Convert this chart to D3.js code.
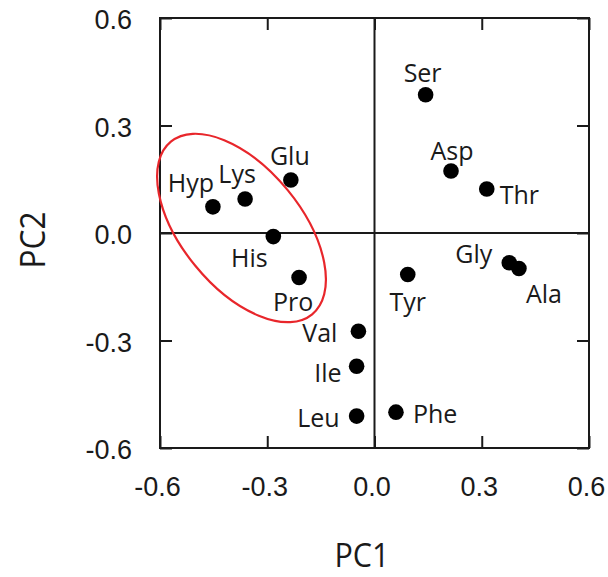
<!DOCTYPE html>
<html>
<head>
<meta charset="utf-8">
<script src="https://cdn.jsdelivr.net/npm/d3@7"></script>
<style>
  html, body { margin: 0; padding: 0; background: #fff; }
  svg { display: block; font-family: "Open Sans", "Noto Sans", sans-serif; }
</style>
</head>
<body>
<svg id="chart" width="608" height="577"></svg>
<script>
// Amino acid scores on the first two principal components
const aminoAcids = ["Hyp", "Lys", "Glu", "His", "Pro", "Ser", "Asp", "Thr", "Gly", "Ala", "Tyr", "Val", "Ile", "Leu", "Phe"];
const pc1Scores  = [-0.452, -0.362, -0.234, -0.283, -0.211, 0.143, 0.214, 0.314, 0.377, 0.404, 0.093, -0.045, -0.050, -0.050, 0.060];
const pc2Scores  = [0.073, 0.095, 0.148, -0.010, -0.124, 0.386, 0.173, 0.123, -0.083, -0.099, -0.116, -0.274, -0.372, -0.511, -0.500];
const axisTicks  = [-0.6, -0.3, 0.0, 0.3, 0.6];

// Grouping ellipse (data units): centre, semi-axes, tilt in degrees
const groupCentre = [-0.372, 0.014];
const groupAxes   = [0.312, 0.167];
const groupTilt   = -50.7;

const svg = d3.select("#chart");
const x = d3.scaleLinear().domain([-0.6, 0.6]).range([160, 589]);
const y = d3.scaleLinear().domain([-0.6, 0.6]).range([448, 18]);
const fmt = v => d3.format(".1f")(v).replace("\u2212", "-");
const ink = "#1a1a1a";

// Label placement around each dot: [dx, dy, anchor]
const labelPlace = {
  Hyp: [-22, -15, "middle"], Lys: [-8, -16, "middle"], Glu: [-1, -15, "middle"],
  His: [-24, 30, "middle"],  Pro: [-6, 34, "middle"],  Ser: [-3, -13, "middle"],
  Asp: [1, -11, "middle"],   Thr: [13, 15, "start"],   Gly: [-17, 0, "end"],
  Ala: [7, 35, "start"],     Tyr: [0, 36, "middle"],   Val: [-21, 11, "end"],
  Ile: [-15, 16, "end"],     Leu: [-17, 11, "end"],    Phe: [17, 11, "start"]
};

// Axes with inward ticks on all four sides
function styleAxis(g, showText) {
  g.select(".domain").remove();
  g.selectAll(".tick line").attr("stroke", ink).attr("stroke-width", 2);
  g.selectAll(".tick text").attr("fill", ink).attr("font-size", 27);
  if (!showText) g.selectAll(".tick text").remove();
}
svg.append("g").attr("transform", `translate(0,${y(-0.6)})`)
  .call(d3.axisBottom(x).tickValues(axisTicks).tickFormat(fmt).tickSize(-12).tickPadding(29))
  .call(g => styleAxis(g, true))
  .call(g => g.selectAll(".tick text").attr("dx", -3));
svg.append("g").attr("transform", `translate(${x(-0.6)},0)`)
  .call(d3.axisLeft(y).tickValues(axisTicks).tickFormat(fmt).tickSize(-12).tickPadding(28))
  .call(g => styleAxis(g, true))
  .call(g => g.selectAll(".tick text").attr("dy", "0.4em"));
svg.append("g").attr("transform", `translate(0,${y(0.6)})`)
  .call(d3.axisTop(x).tickValues(axisTicks).tickSize(-12))
  .call(g => styleAxis(g, false));
svg.append("g").attr("transform", `translate(${x(0.6)},0)`)
  .call(d3.axisRight(y).tickValues(axisTicks).tickSize(-12))
  .call(g => styleAxis(g, false));

// Frame and zero lines
svg.append("rect")
  .attr("x", x(-0.6)).attr("y", y(0.6))
  .attr("width", x(0.6) - x(-0.6)).attr("height", y(-0.6) - y(0.6))
  .attr("fill", "none").attr("stroke", ink).attr("stroke-width", 2);
svg.append("line").attr("x1", x(0)).attr("x2", x(0)).attr("y1", y(0.6)).attr("y2", y(-0.6))
  .attr("stroke", ink).attr("stroke-width", 2);
svg.append("line").attr("x1", x(-0.6)).attr("x2", x(0.6)).attr("y1", y(0)).attr("y2", y(0))
  .attr("stroke", ink).attr("stroke-width", 2);

// Ellipse around the hydrophilic group
svg.append("ellipse")
  .attr("cx", 0).attr("cy", 0)
  .attr("rx", x(groupAxes[0]) - x(0)).attr("ry", x(groupAxes[1]) - x(0))
  .attr("transform", `translate(${x(groupCentre[0])},${y(groupCentre[1])}) rotate(${-groupTilt})`)
  .attr("fill", "none").attr("stroke", "#e8262b").attr("stroke-width", 2.2);

// Points and labels
const pts = aminoAcids.map((name, i) => ({ name, pc1: pc1Scores[i], pc2: pc2Scores[i] }));
svg.append("g").selectAll("circle").data(pts).join("circle")
  .attr("cx", d => x(d.pc1)).attr("cy", d => y(d.pc2)).attr("r", 7.8).attr("fill", "#000");
svg.append("g").selectAll("text").data(pts).join("text")
  .attr("x", d => x(d.pc1) + labelPlace[d.name][0])
  .attr("y", d => y(d.pc2) + labelPlace[d.name][1])
  .attr("text-anchor", d => labelPlace[d.name][2])
  .attr("font-size", 25).attr("fill", ink)
  .text(d => d.name);

// Axis titles
svg.append("text").attr("x", 362).attr("y", 567).attr("text-anchor", "middle")
  .attr("font-size", 32).attr("fill", ink)
  .attr("textLength", 55).attr("lengthAdjust", "spacingAndGlyphs").text("PC1");
svg.append("text").attr("transform", "translate(45,240) rotate(-90)").attr("text-anchor", "middle")
  .attr("font-size", 34).attr("fill", ink)
  .attr("textLength", 57).attr("lengthAdjust", "spacingAndGlyphs").text("PC2");
</script>
</body>
</html>
